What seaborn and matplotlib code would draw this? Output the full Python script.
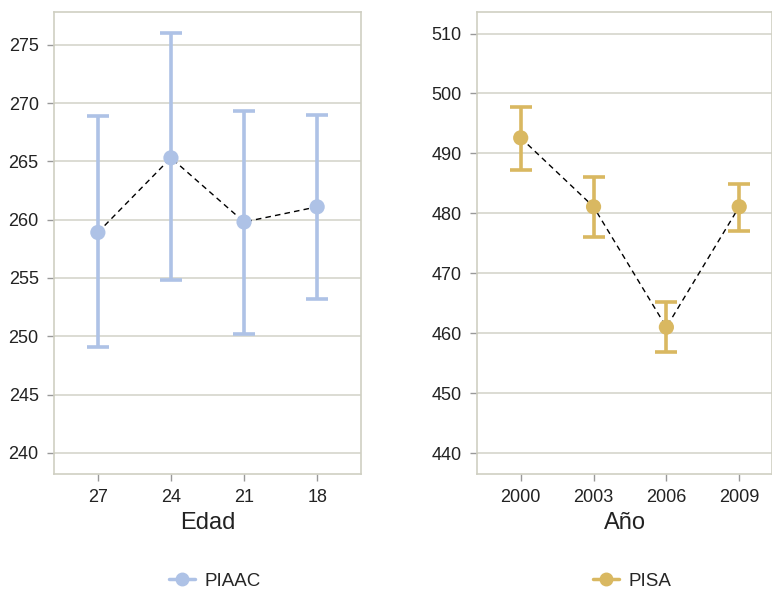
import numpy as np
import pandas as pd
import seaborn as sns
import matplotlib.pyplot as plt
from matplotlib.lines import Line2D

# PIAAC by age
piaac_age = ['27', '24', '21', '18']
piaac_mean = [258.9, 265.3, 259.8, 261.1]
piaac_low = [249.1, 254.8, 250.2, 253.2]
piaac_high = [268.9, 276.0, 269.3, 269.0]

# PISA by year
pisa_year = ['2000', '2003', '2006', '2009']
pisa_mean = [492.6, 481.1, 461.0, 481.1]
pisa_low = [487.3, 476.0, 456.8, 477.1]
pisa_high = [497.8, 486.0, 465.2, 484.9]

blue = '#aec2e6'
gold = '#d9b861'
frame = '#cfcfc2'

sns.set_theme(style='white')
plt.rcParams['font.family'] = ['Liberation Sans', 'DejaVu Sans']

fig = plt.figure(figsize=(7.72, 5.90), dpi=100)
ax1 = fig.add_axes([54 / 772, 116 / 590, 307 / 772, 462 / 590])
ax2 = fig.add_axes([477 / 772, 116 / 590, 295 / 772, 462 / 590])


def draw_panel(ax, labels, mean, low, high, color, xlabel, yticks, ylim, xlim):
    df = pd.DataFrame({'pos': np.arange(len(labels)), 'mean': mean})
    err = [np.array(mean) - np.array(low), np.array(high) - np.array(mean)]
    ax.errorbar(df['pos'], df['mean'], yerr=err, fmt='none', ecolor=color,
                elinewidth=2.6, capsize=8, capthick=2.6, zorder=2)
    sns.lineplot(data=df, x='pos', y='mean', ax=ax, color='black',
                 linestyle=(0, (4, 3)), linewidth=1.0, zorder=3)
    sns.scatterplot(data=df, x='pos', y='mean', ax=ax, color=color, s=120,
                    edgecolor='none', zorder=4)
    ax.set_xticks(df['pos'])
    ax.set_xticklabels(labels)
    ax.set_yticks(yticks)
    ax.set_ylim(*ylim)
    ax.set_xlim(*xlim)
    ax.yaxis.grid(True, color='#d6d6cc', linewidth=1.2)
    ax.set_axisbelow(True)
    ax.set_xlabel(xlabel, fontsize=17, color='#222222', labelpad=4)
    ax.set_ylabel('')
    for s in ax.spines.values():
        s.set_color(frame)
        s.set_linewidth(1.2)
    ax.tick_params(axis='both', which='both', direction='out', length=5,
                   width=1, color='#999999', labelsize=13, labelcolor='#222222',
                   bottom=True, left=True, pad=6)


draw_panel(ax1, piaac_age, piaac_mean, piaac_low, piaac_high, blue, 'Edad',
           np.arange(240, 280, 5), (238.2, 277.8), (-0.6, 3.6))
draw_panel(ax2, pisa_year, pisa_mean, pisa_low, pisa_high, gold, 'Año',
           np.arange(440, 520, 10), (436.5, 513.6), (-0.6, 3.45))

for color, label, xc in [(blue, 'PIAAC', 215 / 772), (gold, 'PISA', 632 / 772)]:
    h = Line2D([], [], color=color, marker='o', markersize=9, linewidth=2.5)
    fig.legend(handles=[h], labels=[label], loc='center', bbox_to_anchor=(xc, 1 - 581 / 590),
               frameon=False, fontsize=13.5, handlelength=1.4, handletextpad=0.5)

fig.savefig('out.png', dpi=100)
